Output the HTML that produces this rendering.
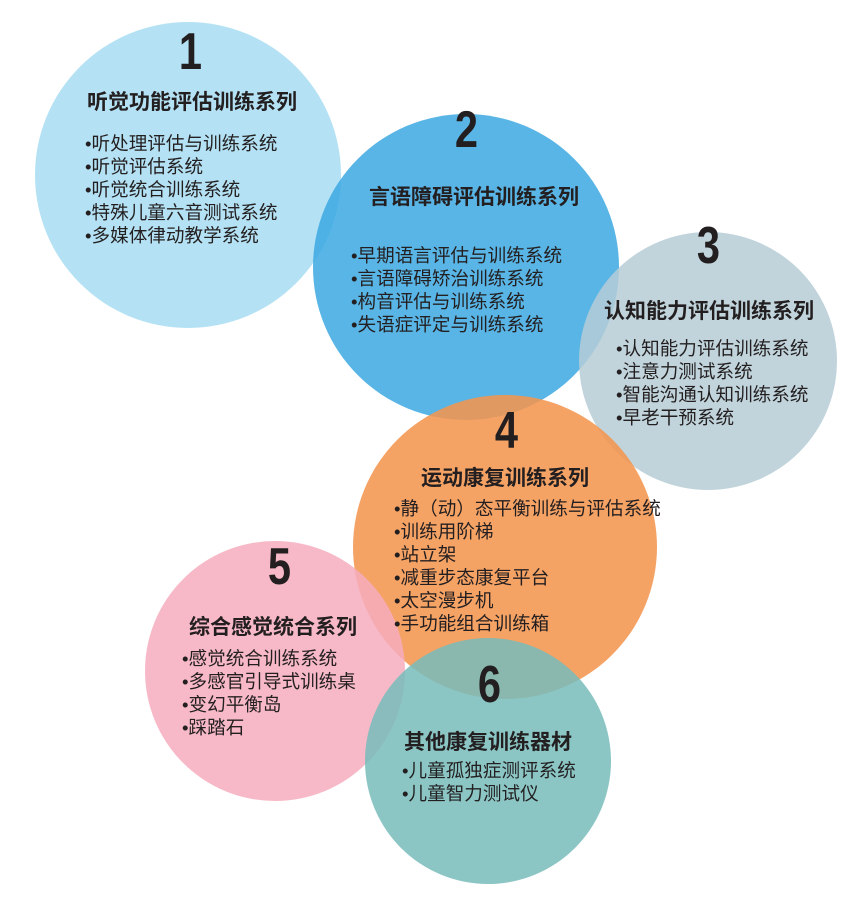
<!DOCTYPE html>
<html><head><meta charset="utf-8"><style>
body{margin:0;background:#fff;width:865px;height:911px;position:relative;overflow:hidden;font-family:"Liberation Sans","Noto Sans CJK SC",sans-serif;color:#231f20}
.c{position:absolute;border-radius:50%;opacity:.85}
.t{position:absolute;font-weight:bold;font-size:21px;white-space:nowrap}
.l{position:absolute;font-size:18.6px;line-height:23px;white-space:nowrap}
.n{position:absolute;font-weight:900;font-size:52px;font-family:"Liberation Sans",sans-serif;transform:scaleX(0.8);line-height:1}
</style></head><body>
<div class="c" style="left:35px;top:22px;width:306px;height:306px;background:#acdff3;opacity:.9"></div>
<div class="c" style="left:313px;top:114px;width:306px;height:306px;background:#3ba8e2"></div>
<div class="c" style="left:579px;top:232px;width:258px;height:258px;background:#b6ccd6"></div>
<div class="c" style="left:353px;top:395px;width:304px;height:304px;background:#f49550;opacity:.88"></div>
<div class="c" style="left:145px;top:541px;width:260px;height:260px;background:#f6adbd"></div>
<div class="c" style="left:365px;top:638px;width:246px;height:246px;background:#77bcbb"></div>

<div class="n" style="left:176px;top:26px">1</div>
<div class="n" style="left:452px;top:104px">2</div>
<div class="n" style="left:694px;top:220px">3</div>
<div class="n" style="left:492px;top:405px">4</div>
<div class="n" style="left:265px;top:541px">5</div>
<div class="n" style="left:475px;top:659px">6</div>

<div class="t" style="left:87px;top:86px">听觉功能评估训练系列</div>
<div class="l" style="left:85px;top:132px">•听处理评估与训练系统<br>•听觉评估系统<br>•听觉统合训练系统<br>•特殊儿童六音测试系统<br>•多媒体律动教学系统</div>

<div class="t" style="left:369px;top:181px">言语障碍评估训练系列</div>
<div class="l" style="left:351px;top:244px">•早期语言评估与训练系统<br>•言语障碍矫治训练系统<br>•构音评估与训练系统<br>•失语症评定与训练系统</div>

<div class="t" style="left:604px;top:295px">认知能力评估训练系列</div>
<div class="l" style="left:616px;top:337px">•认知能力评估训练系统<br>•注意力测试系统<br>•智能沟通认知训练系统<br>•早老干预系统</div>

<div class="t" style="left:421px;top:462px">运动康复训练系列</div>
<div class="l" style="left:394px;top:497px">•静（动）态平衡训练与评估系统<br>•训练用阶梯<br>•站立架<br>•减重步态康复平台<br>•太空漫步机<br>•手功能组合训练箱</div>

<div class="t" style="left:189px;top:611px">综合感觉统合系列</div>
<div class="l" style="left:182px;top:647px">•感觉统合训练系统<br>•多感官引导式训练桌<br>•变幻平衡岛<br>•踩踏石</div>

<div class="t" style="left:404px;top:726px">其他康复训练器材</div>
<div class="l" style="left:402px;top:759px">•儿童孤独症测评系统<br>•儿童智力测试仪</div>
</body></html>
